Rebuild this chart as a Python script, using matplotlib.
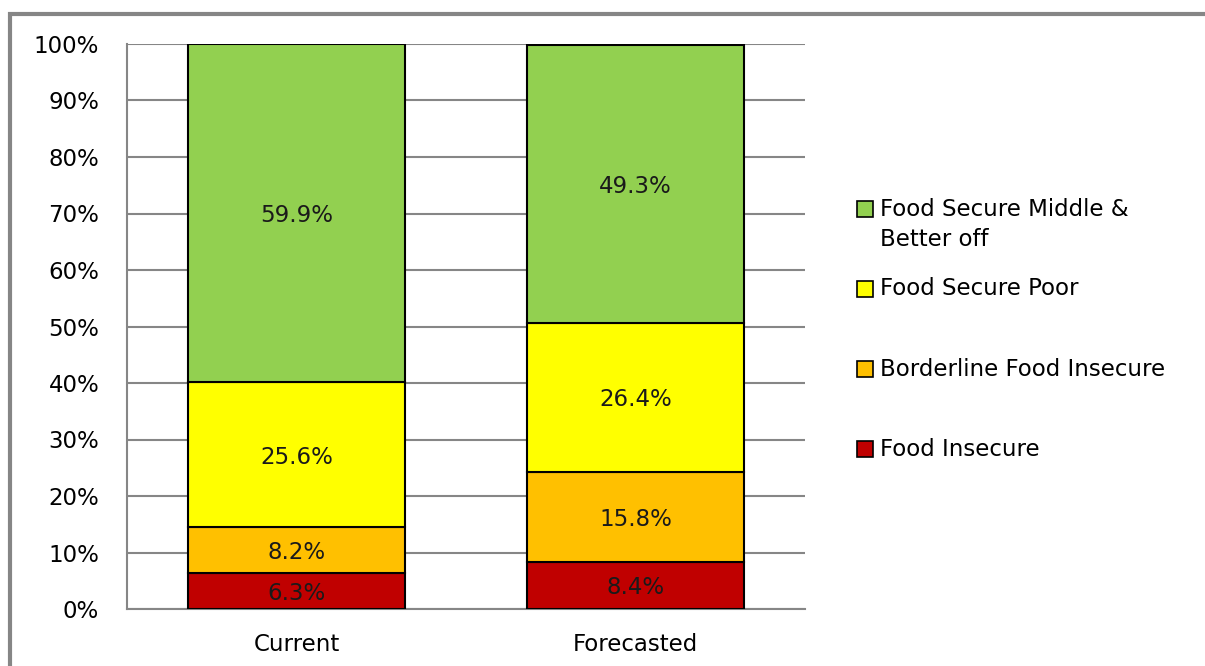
import matplotlib
matplotlib.use("Agg")
import matplotlib.pyplot as plt
from matplotlib.patches import Rectangle
import numpy as np

categories = ["Current", "Forecasted"]
series_names = ["Food Insecure", "Borderline Food Insecure", "Food Secure Poor",
                "Food Secure Middle &\nBetter off"]
food_insecure = [6.3, 8.4]
borderline = [8.2, 15.8]
secure_poor = [25.6, 26.4]
secure_middle = [59.9, 49.3]
colors = ["#C00000", "#FFC000", "#FFFF00", "#92D050"]
yticks = list(range(0, 101, 10))

FS = 16.5
W, H = 1205, 666
fig = plt.figure(figsize=(W / 100, H / 100), dpi=100)
fig.patch.set_facecolor("white")
ax = fig.add_axes([127 / W, 1 - 609 / H, (805 - 127) / W, (609 - 44) / H])

x = np.arange(len(categories))
bottom = np.zeros(len(categories))
series = [food_insecure, borderline, secure_poor, secure_middle]
for vals, col in zip(series, colors):
    vals = np.array(vals)
    ax.bar(x, vals, 0.64, bottom=bottom, color=col, edgecolor="black",
           linewidth=1.5, zorder=3)
    for xi, v, bt in zip(x, vals, bottom):
        ax.text(xi, bt + v / 2 - 0.4, f"{v:.1f}%", ha="center", va="center",
                fontsize=FS, color="#1a1a1a", zorder=4)
    bottom = bottom + vals

ax.set_xlim(-0.5, 1.5)
ax.set_ylim(0, 100)
ax.set_yticks(yticks)
ax.set_yticklabels([f"{t}%" for t in yticks])
ax.set_xticks(x)
ax.set_xticklabels(categories)
ax.tick_params(axis="both", length=0, labelsize=FS, colors="black")
ax.tick_params(axis="y", pad=20)
ax.tick_params(axis="x", pad=17)
ax.yaxis.grid(True, color="#868686", linewidth=1.5, zorder=0)
ax.set_axisbelow(True)
for s in ["top", "right"]:
    ax.spines[s].set_visible(False)
for s in ["left", "bottom"]:
    ax.spines[s].set_color("#868686")
    ax.spines[s].set_linewidth(1.5)

# legend (manual)
leg_items = [(series_names[3], colors[3], 209),
             (series_names[2], colors[2], 289),
             (series_names[1], colors[1], 369),
             (series_names[0], colors[0], 449)]
for label, col, ypix in leg_items:
    fig.add_artist(Rectangle((857 / W, 1 - (ypix + 8) / H), 16 / W, 16 / H,
                             facecolor=col, edgecolor="black", linewidth=1.2,
                             transform=fig.transFigure))
    for i, line in enumerate(label.split("\n")):
        fig.text(880 / W, 1 - (ypix + i * 31) / H, line, ha="left", va="center",
                 fontsize=FS, color="black")

# figure frame
fig.add_artist(Rectangle((9.5 / W, -0.2), 1.5, 1.2 - 14 / H, fill=False,
                         edgecolor="#868686", linewidth=3,
                         transform=fig.transFigure))

fig.savefig("out.png", dpi=100)
